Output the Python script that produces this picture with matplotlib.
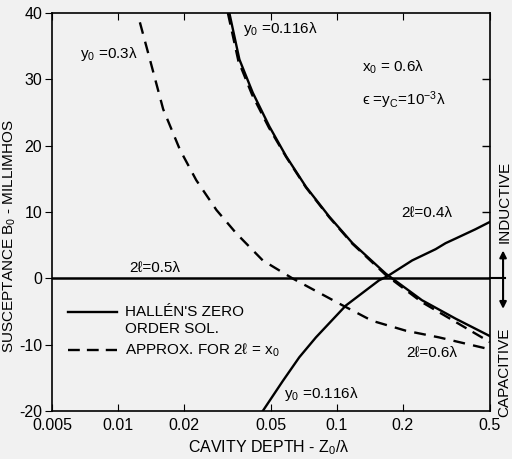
import matplotlib
matplotlib.use('Agg')
import matplotlib.pyplot as plt

plt.rcParams['font.family'] = ['Liberation Sans', 'DejaVu Sans']
plt.rcParams['mathtext.fontset'] = 'custom'
plt.rcParams['mathtext.rm'] = 'Liberation Sans'
plt.rcParams['mathtext.it'] = 'Liberation Sans'
plt.rcParams['mathtext.default'] = 'regular'

# curves (x = cavity depth z0/lambda, y = B0 millimhos)
x_dash_03 = [0.0126, 0.0140, 0.0161, 0.0192, 0.0228, 0.0282, 0.0347, 0.0459, 0.0627, 0.1025, 0.145, 0.207, 0.293, 0.5]
y_dash_03 = [38.6, 33.0, 25.5, 19.4, 14.8, 10.3, 6.8, 2.7, 0.0, -3.8, -6.4, -7.9, -8.9, -10.7]

x_solid_06 = [0.0323, 0.0359, 0.0413, 0.0492, 0.0587, 0.0723, 0.0924, 0.118, 0.1675, 0.245, 0.350, 0.5]
y_solid_06 = [40.0, 33.0, 28.0, 22.9, 18.4, 13.8, 9.3, 5.3, 0.7, -3.3, -6.1, -8.7]

x_dash_0116 = [0.0318, 0.0355, 0.0410, 0.0490, 0.0587, 0.0723, 0.0924, 0.118, 0.1675, 0.245, 0.350, 0.5]
y_dash_0116 = [40.0, 32.8, 27.7, 22.7, 18.3, 13.7, 9.2, 5.2, 0.5, -3.6, -6.6, -9.6]

x_solid_04 = [0.0459, 0.0566, 0.0674, 0.0803, 0.110, 0.156, 0.170, 0.221, 0.283, 0.314, 0.349, 0.430, 0.5]
y_solid_04 = [-20.0, -15.5, -11.9, -8.9, -4.1, -0.3, 0.3, 2.7, 4.4, 5.3, 6.0, 7.4, 8.5]

x_zero = [0.005, 0.5]
y_zero = [0.0, 0.0]

xticks = [0.005, 0.01, 0.02, 0.05, 0.1, 0.2, 0.5]
xticklabels = ['0.005', '0.01', '0.02', '0.05', '0.1', '0.2', '0.5']
yticks = [-20, -10, 0, 10, 20, 30, 40]
yticklabels = ['-20', '-10', '0', '10', '20', '30', '40']

bg = '#f1f1f1'
fig = plt.figure(figsize=(5.12, 4.59), dpi=100, facecolor=bg)
ax = fig.add_axes([0.1016, 0.1046, 0.855, 0.867], facecolor=bg)

ax.plot(x_zero, y_zero, color='black', lw=1.8)
ax.plot(x_solid_06, y_solid_06, color='black', lw=1.7)
ax.plot(x_dash_0116, y_dash_0116, color='black', lw=1.7, dashes=(5, 3))
ax.plot(x_solid_04, y_solid_04, color='black', lw=1.7)
ax.plot(x_dash_03, y_dash_03, color='black', lw=1.7, dashes=(5, 3.5))

ax.set_xscale('log')
ax.set_xlim(0.005, 0.5)
ax.set_ylim(-20, 40)
ax.set_xticks(xticks)
ax.set_xticklabels(xticklabels)
ax.minorticks_off()
ax.set_yticks(yticks)
ax.set_yticklabels(yticklabels)
ax.tick_params(axis='x', direction='in', top=True, length=5, labelsize=11.5, pad=5)
ax.tick_params(axis='y', direction='out', length=5, labelsize=11.5, right=False, pad=2)
for v in [10, 20, 30]:
    ax.plot([0.5], [v], marker=0, color='black', markersize=6, clip_on=False)
for s in ax.spines.values():
    s.set_linewidth(1.2)

ax.set_xlabel('CAVITY DEPTH - $Z_0/$λ', fontsize=11.5)
ax.xaxis.set_label_coords(0.495, -0.068)
ax.set_ylabel('SUSCEPTANCE $B_0$ - MILLIMHOS', fontsize=11)
ax.yaxis.set_label_coords(-0.077, 0.44)

fs = 11
ax.text(0.0067, 33.8, '$y_0$ =0.3λ', fontsize=fs, va='center')
ax.text(0.0371, 37.6, '$y_0$ =0.116λ', fontsize=fs, va='center')
ax.text(0.131, 31.8, '$x_0$ = 0.6λ', fontsize=fs, va='center')
ax.text(0.131, 26.8, 'ϵ =$y_C$=$10^{-3}$λ', fontsize=fs, va='center')
ax.text(0.197, 9.8, '2ℓ=0.4λ', fontsize=fs, va='center')
ax.text(0.0113, 1.6, '2ℓ=0.5λ', fontsize=fs, va='center')
ax.text(0.207, -11.2, '2ℓ=0.6λ', fontsize=fs, va='center')
ax.text(0.0571, -17.4, '$y_0$ =0.116λ', fontsize=fs, va='center')

# legend drawn by hand
ax.plot([0.0059, 0.0099], [-5.0, -5.0], color='black', lw=1.7)
ax.plot([0.0059, 0.0099], [-10.8, -10.8], color='black', lw=1.7, dashes=(5, 3))
ax.text(0.0108, -5.0, "HALLÉN'S ZERO", fontsize=fs, va='center')
ax.text(0.0108, -7.6, 'ORDER SOL.', fontsize=fs, va='center')
ax.text(0.0108, -10.8, 'APPROX. FOR 2ℓ = $x_0$', fontsize=fs, va='center')

# inductive / capacitive indicator on the right
ax.plot([0.5, 0.585], [0, 0], color='black', lw=1.5, clip_on=False)
ax.annotate('', xy=(0.575, 4.2), xytext=(0.575, 0), xycoords='data',
            arrowprops=dict(arrowstyle='-|>', color='black', lw=1.5,
                            shrinkA=0, shrinkB=0, mutation_scale=10), annotation_clip=False)
ax.annotate('', xy=(0.575, -4.6), xytext=(0.575, 0), xycoords='data',
            arrowprops=dict(arrowstyle='-|>', color='black', lw=1.5,
                            shrinkA=0, shrinkB=0, mutation_scale=10), annotation_clip=False)
ax.text(0.585, 11.5, 'INDUCTIVE', rotation=90, fontsize=fs, ha='center', va='center')
ax.text(0.585, -14.2, 'CAPACITIVE', rotation=90, fontsize=fs, ha='center', va='center')

plt.savefig('out.png', dpi=100, facecolor=bg)
